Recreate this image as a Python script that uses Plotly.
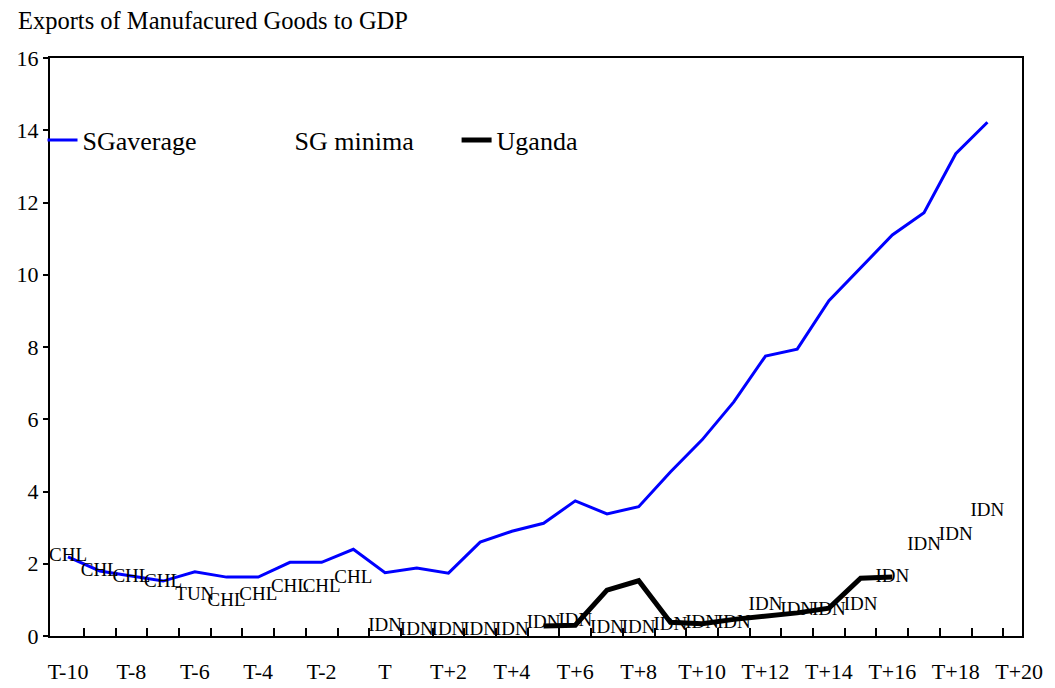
import plotly.graph_objects as go

periods = list(range(-10, 20))  # T-10 .. T+19
tick_vals = list(range(-10, 21, 2))
tick_text = ["T-10", "T-8", "T-6", "T-4", "T-2", "T", "T+2", "T+4", "T+6", "T+8",
             "T+10", "T+12", "T+14", "T+16", "T+18", "T+20"]
minor_ticks = [v + 0.5 for v in range(-10, 20)]

sg_average = [2.19, 1.80, 1.66, 1.52, 1.78, 1.63, 1.63, 2.04, 2.04, 2.40,
              1.75, 1.88, 1.74, 2.60, 2.90, 3.12, 3.74, 3.38, 3.58, 4.54,
              5.43, 6.48, 7.75, 7.94, 9.28, 10.19, 11.10, 11.72, 13.35, 14.22]

sg_minima = [2.20, 1.78, 1.64, 1.50, 1.13, 0.95, 1.13, 1.35, 1.35, 1.60,
             0.26, 0.17, 0.17, 0.17, 0.17, 0.35, 0.42, 0.22, 0.22, 0.30,
             0.35, 0.35, 0.86, 0.72, 0.72, 0.86, 1.64, 2.52, 2.80, 3.44]
sg_minima_names = ["CHL", "CHL", "CHL", "CHL", "TUN", "CHL", "CHL", "CHL", "CHL", "CHL",
                   "IDN", "IDN", "IDN", "IDN", "IDN", "IDN", "IDN", "IDN", "IDN", "IDN",
                   "IDN", "IDN", "IDN", "IDN", "IDN", "IDN", "IDN", "IDN", "IDN", "IDN"]

uganda_periods = list(range(5, 17))
uganda = [0.28, 0.30, 1.27, 1.53, 0.38, 0.34, 0.46, 0.54, 0.64, 0.77, 1.60, 1.63]

FONT = "Liberation Serif, Times New Roman, serif"

fig = go.Figure()
fig.add_trace(go.Scatter(x=periods, y=sg_average, mode="lines", name="SGaverage",
                         line=dict(color="#0000FF", width=3), legend="legend"))
fig.add_trace(go.Scatter(x=[None], y=[None], mode="lines", name="SG minima",
                         line=dict(color="rgba(0,0,0,0)", width=3), legend="legend2"))
fig.add_trace(go.Scatter(x=periods, y=sg_minima, mode="text", text=sg_minima_names,
                         textposition="middle center", showlegend=False,
                         textfont=dict(family=FONT, size=19, color="black")))
fig.add_trace(go.Scatter(x=uganda_periods, y=uganda, mode="lines", name="Uganda",
                         line=dict(color="black", width=5), legend="legend3"))

legend_common = dict(orientation="h", xanchor="left", y=0.858, yanchor="middle",
                     font=dict(family=FONT, size=26, color="black"),
                     bgcolor="rgba(0,0,0,0)")

W, H = 1039, 680
fig.update_layout(
    width=W, height=H,
    margin=dict(l=42, r=25, t=50, b=52, autoexpand=False),
    paper_bgcolor="white", plot_bgcolor="white",
    font=dict(family=FONT, size=22, color="black"),
    title=dict(text="Exports of Manufacured Goods to GDP", x=10/W, xanchor="left",
               xref="container", y=1 - 12/H, yref="container", yanchor="middle",
               pad=dict(l=0, r=0, t=0, b=0),
               font=dict(family=FONT, size=24.5, color="black")),
    legend=dict(x=-0.0077, **legend_common),
    legend2=dict(x=0.2104, **legend_common),
    legend3=dict(x=0.4183, **legend_common),
    xaxis=dict(range=[-10.568, 20.09], tickmode="array", tickvals=tick_vals,
               ticktext=tick_text, ticks="", showgrid=False, zeroline=False,
               showline=True, linecolor="black", linewidth=2, mirror=True,
               ticklabelstandoff=15, automargin=False,
               minor=dict(tickmode="array", tickvals=minor_ticks, ticks="inside",
                          ticklen=8, tickwidth=1.5, tickcolor="black", showgrid=False)),
    yaxis=dict(range=[0, 16], dtick=2, ticks="outside", ticklen=5, tickwidth=1.5,
               tickcolor="black", showgrid=False, zeroline=False, showline=True,
               linecolor="black", linewidth=2, mirror=True, ticklabelstandoff=0,
               automargin=False),
)

fig.write_html("out.html")
